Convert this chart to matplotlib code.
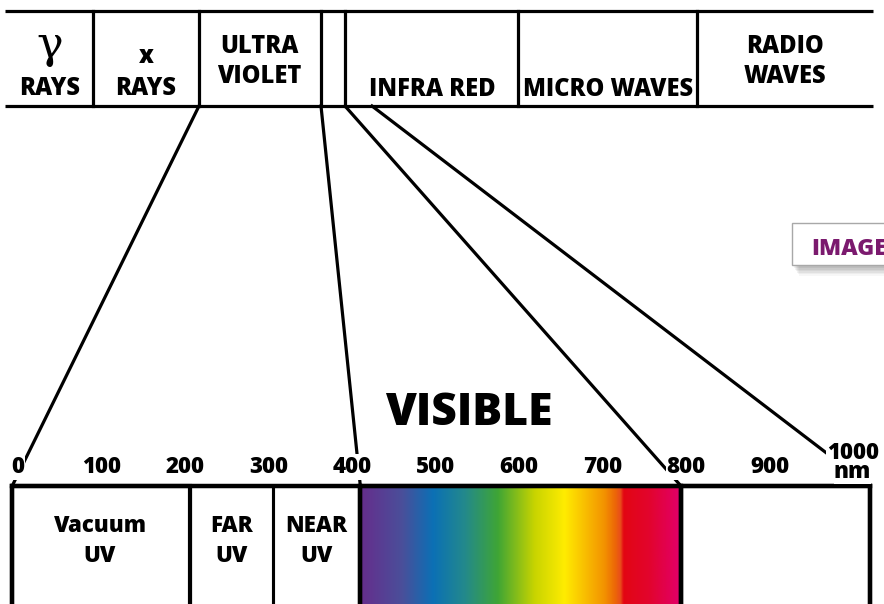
import numpy as np
import matplotlib.pyplot as plt
from matplotlib.colors import LinearSegmentedColormap
from matplotlib.patches import Rectangle

plt.rcParams['font.family'] = ['Open Sans', 'DejaVu Sans']
plt.rcParams['font.weight'] = 800

# nm scale of the lower bar (pixel column = 18 + 0.835 * nm)
tick_nm = [0, 100, 200, 300, 400, 500, 600, 700, 800, 900]
band_edges_nm = [-7, 206, 305, 410, 794, 1020]
band_names = ['Vacuum\nUV', 'FAR\nUV', 'NEAR\nUV', '', '']

# visible gradient stops (nm, colour)
grad_nm = [410, 460, 497, 535, 575, 619, 655, 703, 716, 722, 726, 757, 794]
grad_col = ['#662d8c', '#4a4f9a', '#0b70b5', '#23898c', '#3fa535', '#c8d400',
            '#ffec00', '#f39200', '#ec6608', '#e94e1b', '#e30613', '#e2042e',
            '#e2006a']

# upper band (electromagnetic spectrum)
top_dividers = [93, 199, 321, 345, 518, 697]
top_labels = [('γ', 50), ('RAYS', 50), ('x', 146), ('RAYS', 146),
              ('ULTRA', 259), ('VIOLET', 259), ('INFRA RED', 432),
              ('MICRO WAVES', 608), ('RADIO', 785), ('WAVES', 785)]
top_base = [None, 95, 63, 95, 53, 83, 96, 96, 53, 83]

# connector lines: upper band column -> nm on lower bar
conn_top = [199, 321, 345, 372]
conn_nm = [-7, 410, 794, 1020]


def px2nm(px):
    return (px - 18) / 0.835


fig = plt.figure(figsize=(8.84, 6.04), dpi=100)
ax = fig.add_axes([0, 0, 1, 1])
ax.set_xlim(px2nm(0), px2nm(884))
ax.set_ylim(604, 0)
ax.axis('off')

# upper band
lw_top = 2.3
for y in (11, 106):
    ax.plot([px2nm(5), px2nm(873)], [y, y], color='black', lw=lw_top, solid_capstyle='butt')
for d in top_dividers:
    ax.plot([px2nm(d)] * 2, [11, 106], color='black', lw=lw_top)
for (txt, x), b in zip(top_labels, top_base):
    if txt == 'γ':
        ax.text(px2nm(x), 45, txt, ha='center', va='center', fontsize=32,
                family='DejaVu Serif', fontweight='normal')
    else:
        ax.text(px2nm(x), b, txt, ha='center', va='baseline', fontsize=17)

# connectors
for t, n in zip(conn_top, conn_nm):
    ax.plot([px2nm(t), n], [106, 486], color='black', lw=2.3, zorder=2)

# visible gradient
cmap = LinearSegmentedColormap.from_list(
    'vis', [((g - grad_nm[0]) / (grad_nm[-1] - grad_nm[0]), c) for g, c in zip(grad_nm, grad_col)])
ax.imshow(np.linspace(0, 1, 512)[None, :], cmap=cmap, aspect='auto',
          extent=[band_edges_nm[3], band_edges_nm[4], 606, 486], zorder=3)
ax.set_xlim(px2nm(0), px2nm(884))
ax.set_ylim(604, 0)

# lower bar boxes
for i, name in enumerate(band_names):
    x0, x1 = band_edges_nm[i], band_edges_nm[i + 1]
    ax.add_patch(Rectangle((x0, 486), x1 - x0, 122, fill=False, edgecolor='black',
                           lw=2.2 if i in (1, 2) else 3.0, zorder=4))
    if name:
        l1, l2 = name.split('\n')
        xc = (x0 + x1) / 2
        if i == 0:
            xc = px2nm(100)
        ax.text(xc, 532, l1, ha='center', va='baseline', fontsize=16, zorder=5)
        ax.text(xc, 562, l2, ha='center', va='baseline', fontsize=16, zorder=5)
ax.plot([band_edges_nm[0], band_edges_nm[-1]], [486, 486], color='black', lw=3.2, zorder=5)
for e in (band_edges_nm[0], band_edges_nm[3], band_edges_nm[4], band_edges_nm[5]):
    ax.plot([e, e], [486, 606], color='black', lw=3.2, zorder=5)

# tick labels
for t in tick_nm:
    ax.text(t, 473, str(t), ha='center', va='baseline', fontsize=16, zorder=6,
            bbox=dict(facecolor='white', edgecolor='none', pad=0.5))
ax.text(1000, 459, '1000', ha='center', va='baseline', fontsize=16, zorder=6,
        bbox=dict(facecolor='white', edgecolor='none', pad=0.5))
ax.text(999, 478, 'nm', ha='center', va='baseline', fontsize=16, zorder=6,
        bbox=dict(facecolor='white', edgecolor='none', pad=0.0))

ax.text(px2nm(469), 425, 'VISIBLE', ha='center', va='baseline', fontsize=32, zorder=6)

# stray "IMAGE" button
for k, a in enumerate([0.05, 0.05, 0.05, 0.05, 0.04, 0.03]):
    ax.add_patch(Rectangle((px2nm(794 + k), 226 + k * 1.6), px2nm(900) - px2nm(794), 42,
                           facecolor='black', edgecolor='none', alpha=a, zorder=6))
ax.add_patch(Rectangle((px2nm(792), 223), px2nm(900) - px2nm(792), 42,
                       facecolor='white', edgecolor='#a8a8a8', lw=1, zorder=7))
ax.text(px2nm(811), 255, 'IMAGE', ha='left', va='baseline', fontsize=16.5,
        color='#7b1a6e', zorder=8)

fig.savefig('out.png', dpi=100)
